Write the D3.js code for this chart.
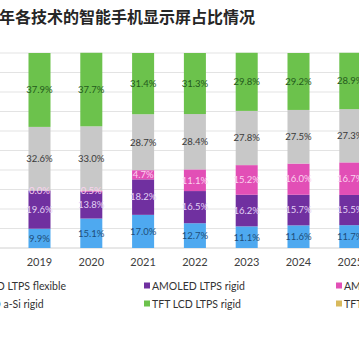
<!DOCTYPE html>
<html>
<head>
<meta charset="utf-8">
<script src="https://cdn.jsdelivr.net/npm/d3@7"></script>
<style>
  body { margin: 0; background: #fff; }
  svg { display: block; }
</style>
</head>
<body>
<svg id="chart"></svg>
<script>
// chart data
const years = ["2019", "2020", "2021", "2022", "2023", "2024", "2025"];
const seriesNames = ["AMOLED LTPS flexible", "AMOLED LTPS rigid", "AMOLED Oxide",
                     "TFT LCD a-Si rigid", "TFT LCD LTPS rigid", "TFT LCD Oxide"];
const flexible  = [9.9, 15.1, 17.0, 12.7, 11.1, 11.6, 11.7];
const ltpsRigid = [19.6, 13.8, 18.2, 16.5, 16.2, 15.7, 15.5];
const oxide     = [0.0, 0.5, 4.7, 11.1, 15.2, 16.0, 16.7];
const aSi       = [32.6, 33.0, 28.7, 28.4, 27.8, 27.5, 27.3];
const lcdLtps   = [37.9, 37.7, 31.4, 31.3, 29.8, 29.2, 28.9];
const lcdOxide  = [0, 0, 0, 0, 0, 0, 0];
const yTicks = d3.range(0, 101, 10);
const title = "年各技术的智能手机显示屏占比情况";

const colors     = ["#4ea9f0", "#7030a0", "#e24fb6", "#c8c8c8", "#6cc24c", "#d8b95c"];
const labelColor = ["#1f4e79", "#e2d2f5", "#fbd3ef", "#3a3a3a", "#245a1c", "#333"];

const W = 359, H = 359;
const svg = d3.select("#chart").attr("width", W).attr("height", H);

const rows = years.map((y, i) => ({
  year: y,
  s0: flexible[i], s1: ltpsRigid[i], s2: oxide[i],
  s3: aSi[i], s4: lcdLtps[i], s5: lcdOxide[i]
}));
const keys = ["s0", "s1", "s2", "s3", "s4", "s5"];
const stacked = d3.stack().keys(keys)(rows);

// band scale, left part of the original chart is cut off
const x = d3.scaleBand().domain(years)
  .range([13.6, 376.2])
  .paddingInner(0.575).paddingOuter(0.2875);
const y = d3.scaleLinear().domain([0, 100]).range([248, 53]);

// gridlines
svg.append("g").selectAll("line")
  .data(yTicks)
  .join("line")
  .attr("x1", 0).attr("x2", W)
  .attr("y1", d => y(d)).attr("y2", d => y(d))
  .attr("stroke", d => d === 0 ? "#d0d0d0" : "#e3e3e3")
  .attr("stroke-width", 1);

// bars
const layers = svg.append("g").selectAll("g")
  .data(stacked)
  .join("g")
  .attr("fill", (d, i) => colors[i]);

layers.selectAll("rect")
  .data(d => d)
  .join("rect")
  .attr("x", d => x(d.data.year))
  .attr("width", x.bandwidth())
  .attr("y", d => y(d[1]))
  .attr("height", d => y(d[0]) - y(d[1]));

// value labels
const labels = svg.append("g")
  .style("font-family", "Lato, 'Open Sans', sans-serif")
  .style("font-size", "9.5px");
stacked.forEach((layer, i) => {
  if (i === 5) return;
  labels.selectAll(null)
    .data(layer)
    .join("text")
    .attr("x", d => x(d.data.year) + x.bandwidth() / 2)
    .attr("y", d => (y(d[0]) + y(d[1])) / 2)
    .attr("dy", "0.35em")
    .attr("text-anchor", "middle")
    .attr("fill", labelColor[i])
    .text(d => (d[1] - d[0]).toFixed(1) + "%");
});

// x axis labels
const xAxis = svg.append("g")
  .attr("transform", "translate(0,248)")
  .call(d3.axisBottom(x).tickSize(0).tickPadding(10));
xAxis.select(".domain").remove();
xAxis.selectAll("text")
  .style("font-family", "Lato, 'Open Sans', sans-serif")
  .style("font-size", "11px")
  .attr("fill", "#404040");

// legend, two rows of three
const legend = svg.append("g")
  .style("font-family", "Lato, 'Open Sans', sans-serif")
  .style("font-size", "10.5px");
const colX = [-40, 152, 344];
const rowY = [286, 304];
seriesNames.forEach((name, i) => {
  const gx = colX[i % 3], gy = rowY[Math.floor(i / 3)];
  legend.append("rect")
    .attr("x", gx - 8).attr("y", gy - 3.5)
    .attr("width", 6).attr("height", 6)
    .attr("fill", colors[i]);
  legend.append("text")
    .attr("x", gx).attr("y", gy)
    .attr("dy", "0.35em")
    .attr("fill", "#333")
    .text(name);
});

// title, cut off on the left like the source
svg.append("text")
  .attr("x", -1).attr("y", 17)
  .attr("dy", "0.35em")
  .style("font-family", "'Noto Sans CJK SC', sans-serif")
  .style("font-size", "16px")
  .style("font-weight", "bold")
  .attr("fill", "#262626")
  .text(title);
</script>
</body>
</html>
